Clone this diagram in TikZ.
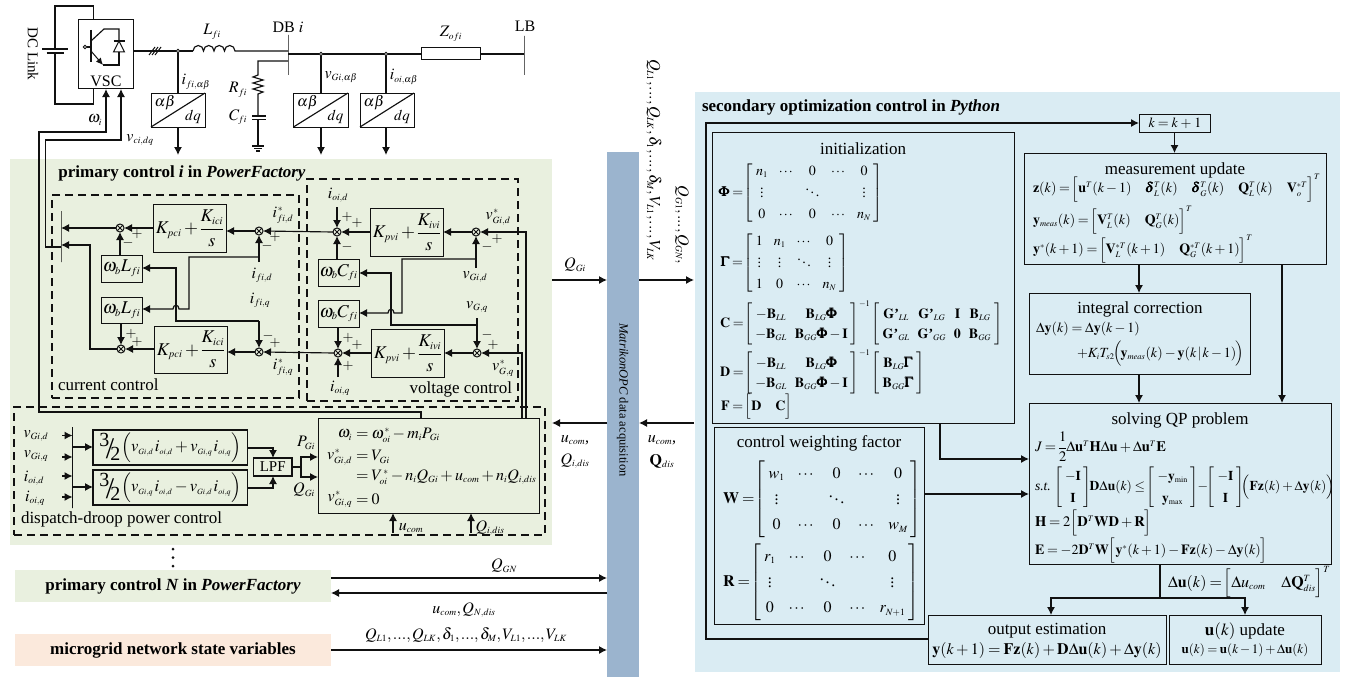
\documentclass[tikz,border=0pt]{standalone}
\usepackage{amsmath}
\usepackage{mathptmx}
\usepackage[no-math]{fontspec}
\setmainfont{Liberation Serif}
\usetikzlibrary{arrows.meta}
\DeclareMathSizes{12}{12}{7.5}{6}
\DeclareMathSizes{13}{13}{8}{6}
\DeclareMathSizes{13.5}{13.5}{8}{6}
\DeclareMathSizes{14}{14}{8.5}{6.5}
\DeclareMathSizes{14.5}{14.5}{8.5}{6.5}
\DeclareMathSizes{15}{15}{9}{7}
\DeclareMathSizes{16}{16}{9.5}{7}
\DeclareMathSizes{16.5}{16.5}{8}{6}
\DeclareMathSizes{17}{17}{10}{8}
\DeclareMathSizes{18}{18}{10.5}{8}
\DeclareMathSizes{19}{19}{11}{8}
\AtBeginDocument{\thinmuskip=1.5mu \medmuskip=2.5mu \thickmuskip=3.5mu \nulldelimiterspace=0pt}
\newcommand{\fz}[1]{\fontsize{#1}{18}\selectfont}
\newcommand{\GG}{\mathbf{G}\mbox{\bfseries ’}}
\newcommand{\bPhi}{\pmb{\Phi}}
\newcommand{\bGam}{\pmb{\Gamma}}
\newcommand{\bdel}{\pmb{\delta}}
\newcommand{\mtx}[3][1.16]{\def\arraystretch{#1}\left[\begin{array}{@{\kern3pt}#2@{\kern3pt}}#3\end{array}\right]}
\newcommand{\tfr}{\mbox{\fontsize{20}{20}\selectfont\smash{\raisebox{5pt}{3}}\kern-3.5pt\smash{\raisebox{-7pt}{\fontsize{30}{30}\selectfont /}}\kern-4pt\smash{\raisebox{-9pt}{2}}}\kern1pt}
\newcommand{\mybox}[7][]{\node[boxn,#1,minimum width={(#5-#3)*1pt},minimum height={(#6-#4)*1pt}] (#2) at ({(#3+#5)/2},{(#4+#6)/2}) {#7};}
\definecolor{greenbg}{HTML}{E9F0DF}
\definecolor{bluebg}{HTML}{DAECF3}
\definecolor{barbg}{HTML}{9BB4CE}
\definecolor{peachbg}{HTML}{FBE9DC}
\definecolor{ink}{HTML}{111111}
\tikzset{
  boxn/.style={draw=ink,line width=1pt,inner sep=0pt,outer sep=0pt},
  dbox/.style={boxn,line width=1.1pt,dash pattern=on 8pt off 5pt},
  area/.style={inner sep=0pt,outer sep=0pt,draw=none},
  ln/.style={draw=ink,line width=1.15pt},
  arr/.style={ln,-{Latex[length=8pt,width=8pt]}},
  sumj/.style={draw=ink,line width=1pt,circle,inner sep=0pt,outer sep=0pt,minimum size=8pt,
    path picture={\draw[ink,line width=.9pt] (path picture bounding box.north west)--(path picture bounding box.south east)
      (path picture bounding box.north east)--(path picture bounding box.south west);}},
  dot/.style={draw=ink,circle,line width=.8pt,fill=white,inner sep=0pt,minimum size=3.5pt},
  t/.style={inner sep=0pt,outer sep=0pt,font=\fz{16}},
  eq/.style={inner sep=0pt,outer sep=0pt,anchor=west,font=\fz{14}},
  ttl/.style={inner sep=0pt,outer sep=0pt,font=\fz{17}},
  hdr/.style={inner sep=0pt,outer sep=0pt,font=\fz{17}\bfseries},
}
\begin{document}
\begin{tikzpicture}[x=1pt,y=-1pt]
\useasboundingbox (0,0) rectangle (1347,677);
\fill[white] (0,0) rectangle (1347,677);
% backgrounds
\mybox[area,fill=greenbg]{bgp}{10}{159}{552}{545}{}
\mybox[area,fill=greenbg]{bgn}{15}{570}{331}{602}{}
\mybox[area,fill=peachbg]{bgm}{15}{634}{331}{666}{}
\mybox[area,fill=bluebg]{bgs}{695}{92}{1340}{672}{}
\mybox[area,fill=barbg]{opc}{607}{152}{639}{677}{}
\node[t,rotate=-90,font=\fz{12.5}] (opct) at (622.5,400) {\textit{MatrikonOPC} data acquisition};
% ----- circuit
\mybox{vsc}{78.5}{20}{133.5}{89}{}
\node[t] (vsct) at (106,81) {VSC};
\node[t,rotate=-90,font=\fz{15}] (dcl) at (33,54) {DC Link};
\coordinate (capT) at (55,49);
\coordinate (capB) at (55,53);
\coordinate (vsctop) at (93.5,20);
\coordinate (vscbot) at (93.5,89);
\draw[ln] (capT) -- (55,6) -- (93.5,6) -- (vsctop);
\draw[ln] (capB) -- (55,104) -- (93.5,104) -- (vscbot);
\draw[ink,line width=1.1pt] (42,49) -- (68,49);
\draw[ink,line width=2.4pt] (46.5,53) -- (63.5,53);
% IGBT
\draw[ink,line width=1.5pt] (91,30) -- (91,62);
\node[dot] (gate) at (85,47) {};
\draw[ln] (gate) -- (91,47);
\draw[ln] (91,41) -- (104,29) -- (119,29) -- (119,40);
\draw[ink,line width=1pt,-{Latex[length=7pt,width=6.5pt]}] (91,51) -- (103,65);
\draw[ln] (103,65) -- (119,65) -- (119,52);
\draw[ink,line width=1pt] (119,41) -- (113.5,52) -- (124.5,52) -- cycle;
\draw[ink,line width=1.2pt] (113.5,41) -- (124.5,41);
% buses
\mybox{db}{288}{35}{288}{75}{}
\mybox{lb}{524}{36}{524}{75}{}
\node[t] (dbt) at (288,27) {DB $i$};
\node[t] (lbt) at (525,26) {LB};
\coordinate (vscout) at (133.5,51);
\coordinate (dbin) at (288,51);
\node[dot] (n1) at (178,51) {};
\draw[ln] (vscout) -- (n1);
\draw[ink,line width=1pt] (149,55) -- (155,47) (152,55) -- (158,47) (155,55) -- (161,47);
\draw[ln] (n1) -- (193,51);
\draw[ln] (193,51) arc[start angle=180,end angle=0,x radius=5.25,y radius=-5.5] arc[start angle=180,end angle=0,x radius=5.25,y radius=-5.5] arc[start angle=180,end angle=0,x radius=5.25,y radius=-5.5] arc[start angle=180,end angle=0,x radius=5.25,y radius=-5.5] -- (dbin);
\node[t] (Lf) at (212,32) {$L_{fi}$};
\node[t] (ifab) at (196,82) {$i_{fi,\alpha\beta}$};
\mybox{conv1}{151}{93}{205}{127}{}
\mybox{conv2}{293.5}{93}{348}{127}{}
\mybox{conv3}{360}{93}{414}{127}{}
\foreach \c/\x in {conv1/151,conv2/293.5,conv3/360}{
  \draw[ln] (\c.south west) -- (\c.north east);
  \node[t,font=\fz{15}] at (\x+14,103) {$\alpha\beta$};
  \node[t,font=\fz{15}] at (\x+42,117) {$dq$};
}
\coordinate (a1) at (178,155);
\coordinate (a2) at (321,155);
\coordinate (a3) at (386,155);
\draw[ln] (n1) -- (n1 |- conv1.north);
\draw[arr] (n1 |- conv1.south) -- (a1);
\draw[arr] (a2 |- conv2.south) -- (a2);
\draw[arr] (a3 |- conv3.south) -- (a3);
\node[dot] (n2) at (321,54) {};
\node[dot] (n3) at (386,54) {};
\mybox{zo}{421}{48}{480}{60}{}
\coordinate (dbout) at (288,54);
\draw[ln] (dbout) -- (n2) -- (n3) -- (zo.west);
\draw[ln] (zo.east) -- (zo.east -| lb.west);
\draw[ln] (n2) -- (n2 |- conv2.north);
\draw[ln] (n3) -- (n3 |- conv3.north);
\node[t] (vgab) at (341,77) {$v_{Gi,\alpha\beta}$};
\node[t] (ioab) at (404,77) {$i_{oi,\alpha\beta}$};
\node[t] (zl) at (451,34) {$Z_{ofi}$};
\coordinate (dbrc) at (288,61);
\draw[ln] (dbrc) -- (258,61) -- (258,75)
  -- (253,77) -- (263,80) -- (253,83) -- (263,86) -- (253,89) -- (263,92) -- (258,94) -- (258,116);
\draw[ink,line width=1.3pt] (252,116) -- (266,116) (252,119.5) -- (266,119.5);
\draw[ln] (258,119.5) -- (258,146);
\draw[ink,line width=1.1pt] (252,146) -- (264,146) (254,148.5) -- (262,148.5) (256,151) -- (260,151);
\node[t] (Rf) at (238,90) {$R_{fi}$};
\node[t] (Cf) at (238,117) {$C_{fi}$};
\node[t] (wi) at (95,120) {$\omega_i$};
\node[t] (vci) at (140,140) {$v_{ci,dq}$};
% ----- title
\node[hdr] (ptitle) at (182,173) {primary control \textit{i} in \textit{PowerFactory}};
% dashed boxes
\mybox[dbox]{ccb}{52}{195}{299}{398}{}
\mybox[dbox]{vcb}{307}{179}{518}{401}{}
\mybox[dbox]{dpb}{14}{407}{545}{535}{}
\node[ttl,anchor=west] (cct) at (58,385) {current control};
\node[ttl,anchor=east] (vct) at (512,389) {voltage control};
\node[ttl,anchor=west] (dpt) at (21,519) {dispatch-droop power control};
% current control
\mybox{mux}{61}{211}{61}{262}{}
\node[sumj] (s1t) at (120,228) {};
\node[sumj] (s2t) at (259,231) {};
\node[sumj] (s1b) at (121,349) {};
\node[sumj] (s2b) at (259,352) {};
\mybox[font=\fz{18}]{pi1}{153}{204}{226}{252}{$K_{pci}+\dfrac{K_{ici}}{s}$}
\mybox[font=\fz{18}]{pi2}{154}{326}{227}{373}{$K_{pci}+\dfrac{K_{ici}}{s}$}
\mybox[font=\fz{18}]{wl1}{101}{255}{142}{282}{$\omega_b L_{fi}$}
\mybox[font=\fz{18}]{wl2}{101}{297}{142}{323}{$\omega_b L_{fi}$}
\draw[arr] (pi1.west |- s1t) -- (s1t.east);
\draw[arr] (s1t.west) -- (s1t.west -| mux.east);
\draw[arr] (s2t.west) -- (s2t.west -| pi1.east);
\draw[arr] (wl1.north -| s1t) -- (s1t.south);
\draw[arr] (pi2.west |- s1b) -- (s1b.east);
\draw[arr] (s2b.west) -- (s2b.west -| pi2.east);
\draw[arr] (wl2.south -| s1b) -- (s1b.north);
\coordinate (mux2) at (61,245);
\draw[arr] (s1b.west) -- (90,349) -- (90,245) -- (mux2);
\coordinate (fbd) at (259,262);
\coordinate (fbq) at (259,321);
\draw[arr] (fbd) -- (s2t.south);
\draw[arr] (259,257) -- (189,257) -- (189,309) -- (179,309) .. controls (179,304) and (173,304) .. (173,309) -- (wl2.east |- 0,309);
\draw[arr] (fbq) -- (176,321) -- (176,268) -- (wl1.east |- 0,268);
\draw[arr] (fbq) -- (s2b.north);
\node[t] (ifd) at (262,275) {$i_{fi,d}$};
\node[t] (ifq) at (260,300) {$i_{fi,q}$};
\node[t] (ifds) at (283,215) {$i_{fi,d}^{\,*}$};
\node[t] (ifqs) at (283,367) {$i_{fi,q}^{\,*}$};
\foreach \x/\y/\s in {137/234/+,128/243/-,275/237/+,267/246/-,131/334/+,137/342/+,268/336/-,275/343/+,347/217/+,357/223/+,347/247/-,487/247/-,497/239/+,348/338/+,357/345/+,348/366/+,487/335/-,493/345/+}{
  \node[t,font=\fz{14}] at (\x,\y) {$\s$};
}
% voltage control
\node[sumj] (s3t) at (337,232) {};
\node[sumj] (s4t) at (476,232) {};
\node[sumj] (s3b) at (338,353) {};
\node[sumj] (s4b) at (477,353) {};
\mybox[font=\fz{18}]{pi3}{370}{208}{443}{256}{$K_{pvi}+\dfrac{K_{ivi}}{s}$}
\mybox[font=\fz{18}]{pi4}{371}{329}{444}{377}{$K_{pvi}+\dfrac{K_{ivi}}{s}$}
\mybox[font=\fz{18}]{wc1}{318}{259}{359}{286}{$\omega_b C_{fi}$}
\mybox[font=\fz{18}]{wc2}{318}{300}{359}{327}{$\omega_b C_{fi}$}
\draw[arr] (pi3.west |- s3t) -- (s3t.east);
\draw[arr] (s4t.west) -- (s4t.west -| pi3.east);
\draw[arr] (pi4.west |- s3b) -- (s3b.east);
\draw[arr] (s4b.west) -- (s4b.west -| pi4.east);
\draw[arr] (s3t.west) -- (s2t.east);
\draw[arr] (s3b.west) -- (s2b.east);
\draw[arr] (s3t |- wc1.north) -- (s3t.south);
\draw[arr] (s3b |- wc2.south) -- (s3b.north);
\coordinate (iod) at (337,207);
\coordinate (ioq) at (338,377);
\draw[arr] (iod) -- (s3t.north);
\draw[arr] (ioq) -- (s3b.south);
\node[t] (iodt) at (338,195) {$i_{oi,d}$};
\node[t] (ioqt) at (340,388) {$i_{oi,q}$};
\coordinate (fvd) at (476,268);
\coordinate (fvq) at (477,318);
\draw[arr] (fvd) -- (s4t.south);
\draw[arr] (fvq) -- (s4b.north);
\draw[arr] (476,259) -- (402,259) -- (402,313) -- (394,313) .. controls (394,308) and (388,308) .. (388,313) -- (wc2.east |- 0,313);
\draw[arr] (fvq |- 0,325) -- (391,325) -- (391,273) -- (wc1.east |- 0,273);
\node[t] (vgd) at (475,277) {$v_{Gi,d}$};
\node[t] (vgq) at (477,307) {$v_{G,q}$};
\node[t] (vgds) at (498,217) {$v_{Gi,d}^{\,*}$};
\node[t] (vgqs) at (503,368) {$v_{G,q}^{\,*}$};
% dispatch
\mybox{eqb}{318}{418}{539}{513}{}
\coordinate (eqtd) at (526,418);
\coordinate (eqtq) at (522,418);
\draw[arr] (eqtd) -- (526,232) -- (s4t.east);
\draw[arr] (eqtq) -- (522,353) -- (s4b.east);
\coordinate (eqw) at (421,418);
\coordinate (vscw) at (106,89);
\coordinate (vscv) at (121,89);
\coordinate (muxout) at (61,247);
\draw[arr] (eqw) -- (421,412) -- (39,412) -- (39,132) -- (106,132) -- (vscw);
\draw[arr] (muxout) -- (45.5,247) -- (45.5,140) -- (121,140) -- (vscv);
\mybox{mux3}{72.5}{427}{72.5}{508}{}
\foreach \n/\y in {a/435.5,b/457,c/476,d/497}{
  \coordinate (in\n) at (62,\y);
  \draw[arr] (in\n) -- (in\n -| mux3.west);
}
\node[t] at (36,436) {$v_{Gi,d}$};
\node[t] at (36,456) {$v_{Gi,q}$};
\node[t] at (34,478) {$i_{oi,d}$};
\node[t] at (35,498) {$i_{oi,q}$};
\mybox[line width=1.4pt,font=\fz{16.5}]{pw1}{93}{430}{247.5}{465}{$\tfr\Bigl(v_{Gi,d}\,i_{oi,d}+v_{Gi,q}\,i_{oi,q}\Bigr)$}
\mybox[line width=1.4pt,font=\fz{16.5}]{pw2}{93}{470}{247.5}{505}{$\tfr\Bigl(v_{Gi,q}\,i_{oi,d}-v_{Gi,d}\,i_{oi,q}\Bigr)$}
\mybox[line width=1.4pt,font=\fz{15}]{lpf}{253.5}{458}{292}{476}{LPF}
\coordinate (m1) at (73,447);
\coordinate (m2) at (73,487);
\draw[arr] (m1) -- (m1 -| pw1.west);
\draw[arr] (m2) -- (m2 -| pw2.west);
\draw[arr] (pw1.east |- 0,448) -- (273,448) -- (lpf.north -| 273,0);
\draw[arr] (pw2.east |- 0,488) -- (273,488) -- (lpf.south -| 273,0);
\coordinate (bq) at (301,467);
\draw[ln] (lpf.east) -- (bq);
\draw[arr] (bq) -- (301,457) -- (eqb.west |- 0,457);
\draw[arr] (bq) -- (301,477) -- (eqb.west |- 0,477);
\node[t] (pg) at (306,443) {$P_{Gi}$};
\node[t] (qg) at (304,490) {$Q_{Gi}$};
\node[eq,anchor=east,font=\fz{16}] (e1l) at (352,435) {$\omega_i$};
\node[eq,font=\fz{16}] (e1r) at (356,435) {$=\omega_{oi}^{\,*}-m_iP_{Gi}$};
\node[eq,anchor=east,font=\fz{16}] (e2l) at (352,457) {$v_{Gi,d}^{\,*}$};
\node[eq,font=\fz{16}] (e2r) at (356,457) {$=V_{Gi}$};
\node[eq,font=\fz{16}] (e3r) at (356,477) {$=V_{oi}^{\,*}-n_iQ_{Gi}+u_{com}+n_iQ_{i,dis}$};
\node[eq,anchor=east,font=\fz{16}] (e4l) at (352,499) {$v_{Gi,q}^{\,*}$};
\node[eq,font=\fz{16}] (e4r) at (356,499) {$=0$};
\coordinate (uc) at (393,533);
\coordinate (qd) at (471,533);
\draw[arr] (uc) -- (uc |- eqb.south);
\draw[arr] (qd) -- (qd |- eqb.south);
\node[t] (uct) at (411,528) {$u_{com}$};
\node[t] (qdt) at (490,528) {$Q_{i,dis}$};
% middle
\coordinate (pR) at (552,280);
\coordinate (pRb) at (552,423);
\coordinate (sL) at (694,280);
\coordinate (sLb) at (694,423);
\draw[arr] (pR) -- (pR -| opc.west);
\draw[arr] (pR -| opc.east) -- (sL);
\draw[arr] (pRb -| opc.west) -- (pRb);
\draw[arr] (sLb) -- (sLb -| opc.east);
\node[t] (qgi) at (575,265) {$Q_{Gi}$};
\node[t] (u1) at (575,440) {$u_{com}$,};
\node[t] (q1) at (575,461) {$Q_{i,dis}$};
\node[t] (u2) at (662,440) {$u_{com}$,};
\node[t] (q2) at (662,461) {$\mathbf{Q}_{dis}$};
\node[t,rotate=-90] (rl1) at (654,160) {$Q_{L1},...,Q_{LK},\delta_1,...,\delta_M,V_{L1},...,V_{LK}$};
\node[t,rotate=-90] (rl2) at (682,225) {$Q_{G1},...,Q_{GN},$};
% bottom left
\node[circle,fill=ink,inner sep=0pt,minimum size=3pt] (d1) at (173,549) {};
\node[circle,fill=ink,inner sep=0pt,minimum size=3pt] (d2) at (173,557.5) {};
\node[circle,fill=ink,inner sep=0pt,minimum size=3pt] (d3) at (173,566) {};
\node[hdr] (pnt) at (173,586) {primary control \textit{N} in \textit{PowerFactory}};
\node[hdr] (mnt) at (173,650) {microgrid network state variables};
\coordinate (bnA) at (331,578);
\coordinate (bnB) at (331,593);
\coordinate (bnC) at (331,650);
\draw[arr] (bnA) -- (bnA -| opc.west);
\draw[arr] (bnB -| opc.west) -- (bnB);
\draw[arr] (bnC) -- (bnC -| opc.west);
\node[t] (qgn) at (504,566) {$Q_{GN}$};
\node[t] (uqn) at (464,610) {$u_{com},Q_{N,dis}$};
\node[t] (qlb) at (466,635) {$Q_{L1},...,Q_{LK},\delta_1,...,\delta_M,V_{L1},...,V_{LK}$};
% ----- right panel
\node[hdr,anchor=west] (stitle) at (702,107) {secondary optimization control in \textit{Python}};
\mybox{initb}{712}{132}{1014}{423}{}
\mybox{weib}{714}{427}{924}{624}{}
\mybox{kbox}{1139}{114}{1210}{132}{}
\node[t,font=\fz{14}] (kt) at (1175,123) {$k\;{=}\;k\;{+}\;1$};
\mybox{meab}{1024}{153}{1326}{264}{}
\mybox{intb}{1029}{293}{1250}{374}{}
\mybox{qpb}{1029}{403}{1331}{564}{}
\mybox{outb}{928}{615}{1166}{664}{}
\mybox{updb}{1169}{615}{1321}{664}{}
\coordinate (loopS) at (928,639);
\draw[arr] (loopS) -- (706,639) -- (706,123) -- (kbox.west);
\draw[arr] (kbox.south) -- (kbox.south |- meab.north);
\coordinate (m1x) at (1139,264);
\coordinate (m2x) at (1282,264);
\draw[arr] (m1x) -- (m1x |- intb.north);
\draw[arr] (m2x) -- (m2x |- qpb.north);
\draw[arr] (m1x |- intb.south) -- (m1x |- qpb.north);
\coordinate (ib) at (940,423);
\draw[arr] (ib) -- (940,459) -- (qpb.west |- 0,459);
\draw[arr] (weib.east |- 0,494) -- (qpb.west |- 0,494);
\coordinate (qb) at (1160,564);
\coordinate (qbj) at (1160,598);
\draw[ln] (qb) -- (qbj);
\draw[arr] (qbj) -- (1051,598) -- (1051,615);
\draw[arr] (qbj) -- (1245,598) -- (1245,615);
% init
\node[ttl] (it) at (863,149) {initialization};
\arraycolsep=5.5pt
\node[eq] (ePhi) at (719,193) {$\bPhi=\!\!\mtx{ccccc}{n_1&\cdots&0&\cdots&0\\ \vdots&&\ddots&&\vdots\\ 0&\cdots&0&\cdots&n_N}$};
\node[eq] (eGam) at (721,263) {$\bGam=\!\!\mtx{cccc}{1&n_1&\cdots&0\\ \vdots&\vdots&\ddots&\vdots\\ 1&0&\cdots&n_N}$};
\arraycolsep=4pt
\node[eq] (eC) at (720,323) {$\mathbf{C}=\!\!\mtx[1.12]{cc}{-\mathbf{B}_{LL}&\mathbf{B}_{LG}\bPhi\\ -\mathbf{B}_{GL}&\mathbf{B}_{GG}\bPhi-\mathbf{I}}^{-1}\mtx[1.12]{cccc}{\GG_{LL}&\GG_{LG}&\mathbf{I}&\mathbf{B}_{LG}\\ \GG_{GL}&\GG_{GG}&\mathbf{0}&\mathbf{B}_{GG}}$};
\node[eq] (eD) at (720,372) {$\mathbf{D}=\!\!\mtx[1.12]{cc}{-\mathbf{B}_{LL}&\mathbf{B}_{LG}\bPhi\\ -\mathbf{B}_{GL}&\mathbf{B}_{GG}\bPhi-\mathbf{I}}^{-1}\mtx[1.12]{c}{\mathbf{B}_{LG}\bGam\\ \mathbf{B}_{GG}\bGam}$};
\node[eq] (eF) at (721,407) {$\mathbf{F}=\!\Bigl[\mathbf{D}\quad\mathbf{C}\Bigr]$};
% weight
\node[ttl] (wt) at (819,443) {control weighting factor};
\arraycolsep=6.5pt
\node[eq,font=\fz{16}] (eW) at (723,499) {$\mathbf{W}=\!\!\mtx[1.42]{ccccc}{w_1&\cdots&0&\cdots&0\\ \vdots&&\ddots&&\vdots\\ 0&\cdots&0&\cdots&w_M}$};
\node[eq,font=\fz{16}] (eR) at (723,582) {$\mathbf{R}=\!\!\mtx[1.42]{ccccc}{r_1&\cdots&0&\cdots&0\\ \vdots&&\ddots&&\vdots\\ 0&\cdots&0&\cdots&r_{N+1}}$};
\arraycolsep=1pt
% measurement
\node[ttl] (mt) at (1175,170) {measurement update};
\node[eq] (ez) at (1033,188) {$\mathbf{z}(k)=\!\Bigl[\mathbf{u}^T(k-1)\quad\bdel_L^T(k)\quad\bdel_G^T(k)\quad\mathbf{Q}_L^T(k)\quad\mathbf{V}_o^{*T}\Bigr]^T$};
\node[eq] (eym) at (1033,220) {$\mathbf{y}_{meas}(k)=\!\Bigl[\mathbf{V}_L^T(k)\quad\mathbf{Q}_G^T(k)\Bigr]^T$};
\node[eq] (eys) at (1033,249) {$\mathbf{y}^*(k+1)=\!\Bigl[\mathbf{V}_L^{*T}(k+1)\quad\mathbf{Q}_G^{*T}(k+1)\Bigr]^T$};
% integral
\node[ttl] (itt) at (1140,309) {integral correction};
\node[eq] (edy) at (1036,329) {$\Delta\mathbf{y}(k)=\Delta\mathbf{y}(k-1)$};
\node[eq] (edy2) at (1077,354) {$+K_iT_{s2}\!\Bigl(\!\mathbf{y}_{meas}(k)-\mathbf{y}(k\,|\,k-1)\!\Bigr)$};
% QP
\node[ttl] (qt) at (1180,420) {solving QP problem};
\node[eq,font=\fz{14.5}] (eJ) at (1035,447) {$J=\dfrac12\Delta\mathbf{u}^T\mathbf{H}\Delta\mathbf{u}+\Delta\mathbf{u}^T\mathbf{E}$};
\node[eq,font=\fz{13.5}] (est) at (1035,487) {\textit{s.t.}\ $\mtx[1.2]{c}{-\mathbf{I}\\ \mathbf{I}}\kern-3pt\mathbf{D}\Delta\mathbf{u}(k)\le\kern-1pt\mtx[1.2]{c}{-\mathbf{y}_{\min}\\ \mathbf{y}_{\max}}\kern-3pt-\kern-3pt\mtx[1.2]{c}{-\mathbf{I}\\ \mathbf{I}}\kern-4pt\Bigl(\mathbf{Fz}(k)+\Delta\mathbf{y}(k)\Bigr)$};
\node[eq,font=\fz{14.5}] (eH) at (1035,523) {$\mathbf{H}=2\Bigl[\mathbf{D}^T\mathbf{WD}+\mathbf{R}\Bigr]$};
\node[eq,font=\fz{14}] (eE) at (1035,551) {$\mathbf{E}=-2\mathbf{D}^T\mathbf{W}\Bigl[\mathbf{y}^*(k+1)-\mathbf{Fz}(k)-\Delta\mathbf{y}(k)\Bigr]$};
\node[eq,font=\fz{16}] (edu) at (1168,582) {$\Delta\mathbf{u}(k)=\!\Bigl[\Delta u_{com}\quad\Delta\mathbf{Q}_{dis}^T\Bigr]^T$};
% output
\node[ttl] (ot) at (1047,631) {output estimation};
\node[inner sep=0pt,font=\fz{16}] (oe) at (1047,650) {$\mathbf{y}(k+1)=\mathbf{Fz}(k)+\mathbf{D}\Delta\mathbf{u}(k)+\Delta\mathbf{y}(k)$};
\node[ttl] (ut) at (1245,631) {$\mathbf{u}(k)$ update};
\node[inner sep=0pt,font=\fz{13}] (ue) at (1245,650) {$\mathbf{u}(k)=\mathbf{u}(k-1)+\Delta\mathbf{u}(k)$};
\end{tikzpicture}
\end{document}
